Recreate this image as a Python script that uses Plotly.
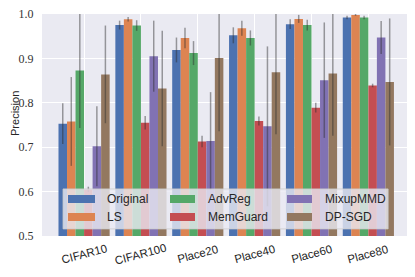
import plotly.graph_objects as go

categories = ["CIFAR10", "CIFAR100", "Place20", "Place40", "Place60", "Place80"]
methods = ["Original", "LS", "AdvReg", "MemGuard", "MixupMMD", "DP-SGD"]
colors = ["#4C72B0", "#DD8452", "#55A868", "#C44E52", "#8172B3", "#937860"]

original = [0.753, 0.975, 0.919, 0.952, 0.977, 0.992]
ls = [0.758, 0.988, 0.946, 0.968, 0.989, 0.998]
advreg = [0.873, 0.974, 0.912, 0.946, 0.975, 0.992]
memguard = [0.605, 0.755, 0.713, 0.759, 0.789, 0.839]
mixupmmd = [0.702, 0.905, 0.714, 0.747, 0.851, 0.947]
dpsgd = [0.864, 0.832, 0.901, 0.869, 0.866, 0.847]

original_err = [0.046, 0.010, 0.028, 0.018, 0.011, 0.004]
ls_err = [0.100, 0.005, 0.023, 0.017, 0.009, 0.002]
advreg_err = [0.130, 0.012, 0.027, 0.017, 0.012, 0.004]
memguard_err = [0.006, 0.015, 0.013, 0.010, 0.011, 0.004]
mixupmmd_err = [0.090, 0.080, 0.110, 0.180, 0.130, 0.037]
dpsgd_err = [0.110, 0.130, 0.165, 0.140, 0.140, 0.143]

values = [original, ls, advreg, memguard, mixupmmd, dpsgd]
errors = [original_err, ls_err, advreg_err, memguard_err, mixupmmd_err, dpsgd_err]

fig = go.Figure()
for name, vals, errs, col in zip(methods, values, errors, colors):
    fig.add_trace(go.Bar(
        x=categories, y=vals, name=name, marker=dict(color=col, line=dict(width=0)),
        error_y=dict(type="data", array=errs, visible=True,
                     color="rgba(45,45,45,0.45)", thickness=1.5, width=0),
        showlegend=False,
    ))

# manual legend (3 columns, column-major like matplotlib)
shapes = [dict(type="rect", xref="paper", yref="paper", layer="above",
               x0=0.057, x1=0.938, y0=0.032, y1=0.212,
               fillcolor="rgba(234,234,242,0.8)", line=dict(color="rgba(204,204,204,0.8)", width=1))]
annotations = []
col_x = [(0.0705, 0.1436, 0.1707), (0.3469, 0.4146, 0.4444), (0.664, 0.7317, 0.7615)]
row_y = [(0.1486, 0.1847, 0.1653), (0.0676, 0.1036, 0.0842)]
for i, (name, col) in enumerate(zip(methods, colors)):
    c, r = i // 2, i % 2
    x0, x1, xt = col_x[c]
    y0, y1, yt = row_y[r]
    shapes.append(dict(type="rect", xref="paper", yref="paper", layer="above",
                       x0=x0, x1=x1, y0=y0, y1=y1, fillcolor=col, line=dict(width=0)))
    annotations.append(dict(xref="paper", yref="paper", x=xt, y=yt, text=name,
                            showarrow=False, xanchor="left", yanchor="middle",
                            font=dict(family="Liberation Sans", size=12, color="#262626")))

for cat in categories:
    annotations.append(dict(xref="x", yref="paper", x=cat, y=0, yshift=-18, text=cat,
                            showarrow=False, xanchor="center", yanchor="middle", textangle=-15,
                            font=dict(family="Liberation Sans", size=11.5, color="#262626")))

# y-axis title
annotations.append(dict(xref="paper", yref="paper", x=-0.073, y=0.55, text="Precision",
                        showarrow=False, xanchor="center", yanchor="middle", textangle=-90,
                        font=dict(family="Liberation Sans", size=11, color="#262626")))

# page body has an 8px margin, so the figure is 8px smaller and margins shifted
fig.update_layout(
    width=407, height=269,
    margin=dict(l=34, r=4, t=6, b=41, autoexpand=False),
    paper_bgcolor="white", plot_bgcolor="#EAEAF2",
    barmode="group", bargap=0.1, bargroupgap=0,
    shapes=shapes, annotations=annotations,
    xaxis=dict(range=[-0.74, 5.75], showgrid=True, gridcolor="white", gridwidth=1,
               showticklabels=False, zeroline=False, showline=False, ticks="", automargin=False),
    yaxis=dict(range=[0.5, 1.0], dtick=0.1, tick0=0.5, tickformat=".1f", automargin=False,
               ticklabeloverflow="allow",
               showgrid=True, gridcolor="white", gridwidth=1, zeroline=False, showline=False,
               ticks="outside", ticklen=5, tickcolor="rgba(0,0,0,0)",
               tickfont=dict(family="Liberation Serif", size=12, color="#333333")),
)

fig.write_html("out.html")
